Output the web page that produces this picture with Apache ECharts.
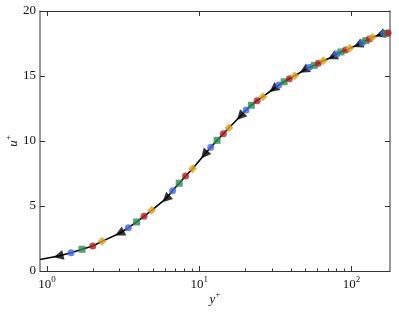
<!DOCTYPE html>
<html>
<head>
<meta charset="utf-8">
<script src="https://cdn.jsdelivr.net/npm/echarts@6/dist/echarts.min.js"></script>
<style>
  html, body { margin: 0; padding: 0; background: #fff; }
  #chart { width: 399px; height: 312px; }
</style>
</head>
<body>
<div id="chart"></div>
<script>
// y+ / u+ values, one pair of arrays per marker set
const triY = [1.19, 3.00, 6.05, 10.8, 18.6, 30.7, 48.8, 74.8, 110, 154];
const triU = [1.15, 2.90, 5.56, 8.95, 11.9, 14.0, 15.44, 16.46, 17.38, 18.18];
const blueY = [1.44, 3.42, 6.68, 11.9, 20.3, 33.3, 52.9, 80.0, 117.7, 163];
const blueU = [1.41, 3.33, 6.18, 9.52, 12.38, 14.31, 15.67, 16.69, 17.56, 18.28];
const greenY = [1.70, 3.88, 7.39, 13.1, 22.0, 36.1, 57.0, 85.3, 124, 170];
const greenU = [1.67, 3.77, 6.75, 10.05, 12.75, 14.56, 15.82, 16.85, 17.72, 18.28];
const redY = [2.00, 4.34, 8.13, 14.4, 24.0, 39.1, 60.6, 91.6, 131, 174];
const redU = [1.92, 4.21, 7.31, 10.56, 13.10, 14.79, 15.98, 17.0, 17.85, 18.3];
const orangeY = [2.30, 4.87, 9.04, 15.7, 26.2, 42.4, 65.3, 97.3, 137];
const orangeU = [2.28, 4.67, 7.87, 11.02, 13.41, 15.02, 16.18, 17.13, 17.98];
// where the black curve enters and leaves the frame
const edgeY = [0.9, 180];
const edgeU = [0.88, 18.33];

const xTicks = [1, 10, 100];
const xMinor = [2, 3, 4, 5, 6, 7, 8, 9, 20, 30, 40, 50, 60, 70, 80, 90];

const pairs = (xs, ys) => xs.map((x, i) => [x, ys[i]]);
const linePts = [].concat(
  pairs(edgeY, edgeU), pairs(triY, triU), pairs(blueY, blueU),
  pairs(greenY, greenU), pairs(redY, redU), pairs(orangeY, orangeU)
).sort((a, b) => a[0] - b[0]);

const font = 'Liberation Serif';
const frame = { show: true, onZero: false, lineStyle: { color: '#333', width: 1 } };
const supRich = {
  b: { fontFamily: font, fontSize: 13, color: '#111', lineHeight: 16, verticalAlign: 'bottom' },
  i: { fontFamily: font, fontSize: 13, color: '#111', fontStyle: 'italic', lineHeight: 16, verticalAlign: 'bottom' },
  s: { fontFamily: font, fontSize: 9, color: '#111', lineHeight: 9, verticalAlign: 'top' }
};

const chart = echarts.init(document.getElementById('chart'), null, { renderer: 'canvas' });

const option = {
  animation: false,
  grid: { left: 40, right: 9, top: 11, bottom: 41, containLabel: false, outerBoundsMode: 'none' },
  xAxis: [
    {
      type: 'log', logBase: 10, min: 0.9, max: 179, position: 'bottom',
      axisLine: frame,
      axisTick: { show: true, inside: true, length: 5, customValues: xTicks, lineStyle: { color: '#333' } },
      axisLabel: {
        customValues: xTicks, margin: 4,
        formatter: v => '{b|10}{s|' + Math.round(Math.log10(v)) + '}',
        rich: supRich
      },
      splitLine: { show: false },
      name: '{i|y}{s|+}', nameLocation: 'middle', nameGap: 19, nameMoveOverlap: false,
      nameTextStyle: { rich: supRich }
    },
    {
      type: 'log', logBase: 10, min: 0.9, max: 179, position: 'bottom',
      axisLine: { show: false, onZero: false },
      axisTick: { show: true, inside: true, length: 2.5, customValues: xMinor, lineStyle: { color: '#333' } },
      axisLabel: { show: false },
      splitLine: { show: false }
    },
    {
      type: 'log', logBase: 10, min: 0.9, max: 179, position: 'top',
      axisLine: frame,
      axisTick: { show: true, inside: true, length: 5, customValues: xTicks, lineStyle: { color: '#333' } },
      axisLabel: { show: false },
      splitLine: { show: false }
    }
  ],
  yAxis: [
    {
      type: 'value', min: 0, max: 20, interval: 5, position: 'left',
      axisLine: { show: true, onZero: false, lineStyle: { color: '#777', width: 1.5 } },
      axisTick: { show: true, inside: true, length: 5, lineStyle: { color: '#333' } },
      axisLabel: { margin: 4, fontFamily: font, fontSize: 13, color: '#111' },
      splitLine: { show: false },
      name: '{i|u}{s|+}', nameLocation: 'middle', nameGap: 20, nameMoveOverlap: false,
      nameTextStyle: { rich: supRich }
    },
    {
      type: 'value', min: 0, max: 20, interval: 5, position: 'right',
      axisLine: { show: true, onZero: false, lineStyle: { color: '#777', width: 1.5 } },
      axisTick: { show: true, inside: true, length: 5, lineStyle: { color: '#333' } },
      axisLabel: { show: false },
      splitLine: { show: false }
    }
  ],
  series: [
    {
      type: 'line', data: linePts, showSymbol: false, symbol: 'none', clip: true,
      lineStyle: { color: '#000', width: 1.6 }, z: 1
    },
    {
      id: 'tri', type: 'scatter', data: pairs(triY, triU), symbol: 'triangle', symbolSize: 10,
      itemStyle: { color: '#000' }, z: 3
    },
    {
      type: 'scatter', data: pairs(blueY, blueU), symbol: 'circle', symbolSize: 7,
      itemStyle: { color: '#4169E1' }, z: 3
    },
    {
      type: 'scatter', data: pairs(greenY, greenU), symbol: 'rect', symbolSize: 7,
      itemStyle: { color: '#2E8B57' }, z: 3
    },
    {
      type: 'scatter', data: pairs(redY, redU), symbol: 'circle', symbolSize: 7,
      itemStyle: { color: '#B22222' }, z: 3
    },
    {
      type: 'scatter', data: pairs(orangeY, orangeU), symbol: 'diamond', symbolSize: 9,
      itemStyle: { color: '#DAA520' }, z: 3
    }
  ]
};

chart.setOption(option);

// turn the triangles so they point back along the curve
const toPx = p => chart.convertToPixel({ xAxisIndex: 0, yAxisIndex: 0 }, p);
const triData = triY.map((x, i) => {
  const k = linePts.findIndex(q => q[0] === x);
  const a = toPx(linePts[k - 1]);
  const b = toPx(linePts[k + 1]);
  const ang = Math.atan2(-(a[1] - b[1]), a[0] - b[0]) * 180 / Math.PI;
  return { value: [x, triU[i]], symbolRotate: ang - 90 };
});
chart.setOption({ series: [{ id: 'tri', data: triData }] });
</script>
</body>
</html>
